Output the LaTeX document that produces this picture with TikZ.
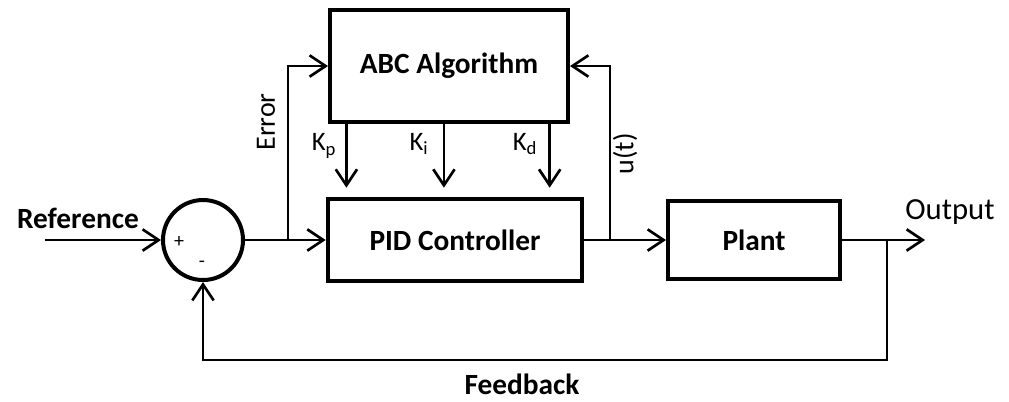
\documentclass[tikz,border=0pt]{standalone}
\usepackage{fontspec}
\setmainfont{Carlito}
\usetikzlibrary{arrows.meta,positioning,calc}

\begin{document}
\begin{tikzpicture}[x=0.75pt, y=-0.75pt,
    block/.style={rectangle, draw, line width=3pt, font=\fontsize{22}{26}\selectfont\bfseries},
    sumnode/.style={circle, draw, line width=3pt, minimum size=60pt, inner sep=0pt},
    wire/.style={line width=2pt},
    signal/.style={wire, -{Straight Barb[length=12pt, width=16pt, line width=2pt]}},
    lbl/.style={font=\fontsize{22}{26}\selectfont\bfseries},
    plain/.style={font=\fontsize{21}{24}\selectfont},
    gain/.style={font=\fontsize{20}{22}\selectfont},
    sign/.style={font=\fontsize{15}{16}\selectfont}
]
    \useasboundingbox (0,0) rectangle (1009,401);

    % blocks
    \node[sumnode] (sum) at (203,240) {};
    \node[block, minimum width=178.5pt, minimum height=84pt] (abc) at (449,66) {ABC Algorithm};
    \node[block, minimum width=191pt, minimum height=61.5pt] (pid) at (455,240) {PID Controller};
    \node[block, minimum width=129pt, minimum height=59pt] (plant) at (754,240) {Plant};

    \node[sign] (plus) at (179,242) {+};
    \node[sign] (minus) at (202,264) {-};

    \coordinate (ref) at (45,240);
    \coordinate (err) at (288,240);
    \coordinate (ctl) at (610,240);
    \coordinate (fb) at (887,240);
    \coordinate (out) at (925,240);
    \coordinate (kp) at ($(abc.south west)!0.076!(abc.south east)$);
    \coordinate (ki) at ($(abc.south west)!0.479!(abc.south east)$);
    \coordinate (kd) at ($(abc.south west)!0.916!(abc.south east)$);

    % signal paths
    \draw[signal] (ref) -- (sum.west);
    \draw[wire] (sum.east) -- (err);
    \draw[signal] (err) -- (pid.west);
    \draw[signal] (err) |- (abc.west);
    \draw[wire] (pid.east) -- (ctl);
    \draw[signal] (ctl) -- (plant.west);
    \draw[signal] (ctl) |- (abc.east);
    \draw[signal] (plant.east) -- (out);
    \draw[signal] (fb) -- ++(0,120) -| (sum.south);
    \draw[signal, shorten >=7pt] (kp) -- (kp |- pid.north);
    \draw[signal, shorten >=7pt] (ki) -- (ki |- pid.north);
    \draw[signal, shorten >=7pt] (kd) -- (kd |- pid.north);

    % labels
    \node[lbl] (reflbl) at (78,218) {Reference};
    \node[plain, font=\fontsize{23}{26}\selectfont] (outlbl) at (950,212) {Output};
    \node[lbl] (fblbl) at (522,384) {Feedback};
    \node[plain, rotate=90] (errlbl) at (266,122) {Error};
    \node[plain, rotate=90] (ulbl) at (625,154) {u(t)};
    \node[gain] (kplbl) at (324,146) {K\textsubscript{p}};
    \node[gain] (kilbl) at (419,144) {K\textsubscript{i}};
    \node[gain] (kdlbl) at (525,144) {K\textsubscript{d}};
\end{tikzpicture}
\end{document}
